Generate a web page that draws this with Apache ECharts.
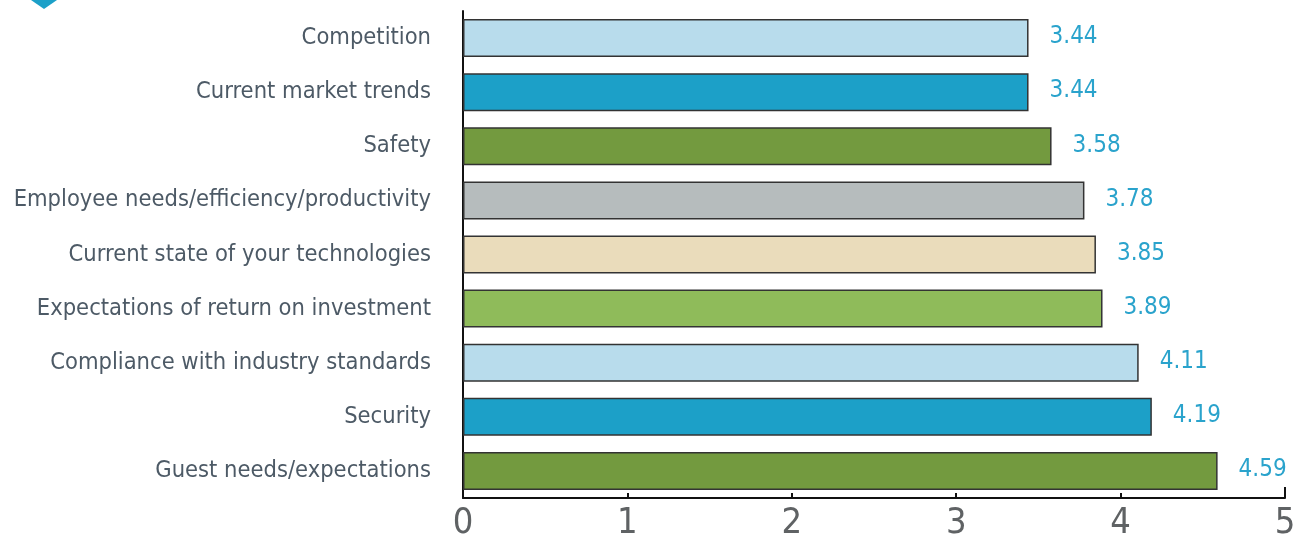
<!DOCTYPE html>
<html>
<head>
<meta charset="utf-8">
<script src="https://cdn.jsdelivr.net/npm/echarts@6/dist/echarts.min.js"></script>
<style>
html,body{margin:0;padding:0;background:#fff;}
#c{width:1305px;height:542px;}
</style>
</head>
<body>
<div id="c"></div>
<script>
var categories = ["Competition","Current market trends","Safety","Employee needs/efficiency/productivity","Current state of your technologies","Expectations of return on investment","Compliance with industry standards","Security","Guest needs/expectations"];
var values = [3.44,3.44,3.58,3.78,3.85,3.89,4.11,4.19,4.59];
var barColors = ["#b8dcec","#1ca0c8","#739a3f","#b6bcbd","#eadcbb","#8fbb5a","#b8dcec","#1ca0c8","#739a3f"];
var xTicks = [0,1,2,3,4,5];

var FONT = "'Liberation Sans Narrow','DejaVu Sans Condensed',sans-serif";
var chart = echarts.init(document.getElementById('c'), null, {renderer:'canvas'});
chart.setOption({
  animation:false,
  backgroundColor:'#fff',
  grid:{left:463,right:20,top:11,bottom:38,containLabel:false},
  graphic:[{type:'polygon',shape:{points:[[31,0],[57,0],[44,9]]},style:{fill:'#1ca0c8'}}],
  xAxis:[{
    type:'value',min:xTicks[0],max:xTicks[xTicks.length-1],interval:1,
    axisLine:{show:true,lineStyle:{color:'#111',width:2}},
    axisTick:{show:true,inside:true,length:5,lineStyle:{color:'#111',width:2}},
    splitLine:{show:false},
    axisLabel:{fontFamily:FONT,fontSize:36,color:'#5f6264',margin:8}
  },{
    type:'value',position:'bottom',min:0,max:5,interval:5,
    axisLine:{show:false},
    axisTick:{show:true,inside:true,length:11,lineStyle:{color:'#111',width:2},customValues:[5]},
    axisLabel:{show:false},splitLine:{show:false}
  }],
  yAxis:{
    type:'category',data:categories,inverse:true,
    axisLine:{show:true,lineStyle:{color:'#111',width:2}},
    axisTick:{show:false},
    axisLabel:{fontFamily:FONT,fontSize:23.5,color:'#4d5a66',margin:32}
  },
  series:[{
    type:'bar',
    data:values.map(function(v,i){return {value:v,itemStyle:{color:barColors[i]}};}),
    barWidth:38,
    itemStyle:{borderColor:'#333',borderWidth:1.5},
    label:{show:true,position:'right',distance:21,offset:[0,-1],fontFamily:FONT,fontSize:24,color:'#2aa3cc',
      formatter:function(p){return p.value.toFixed(2);}}
  }]
});
</script>
</body>
</html>
